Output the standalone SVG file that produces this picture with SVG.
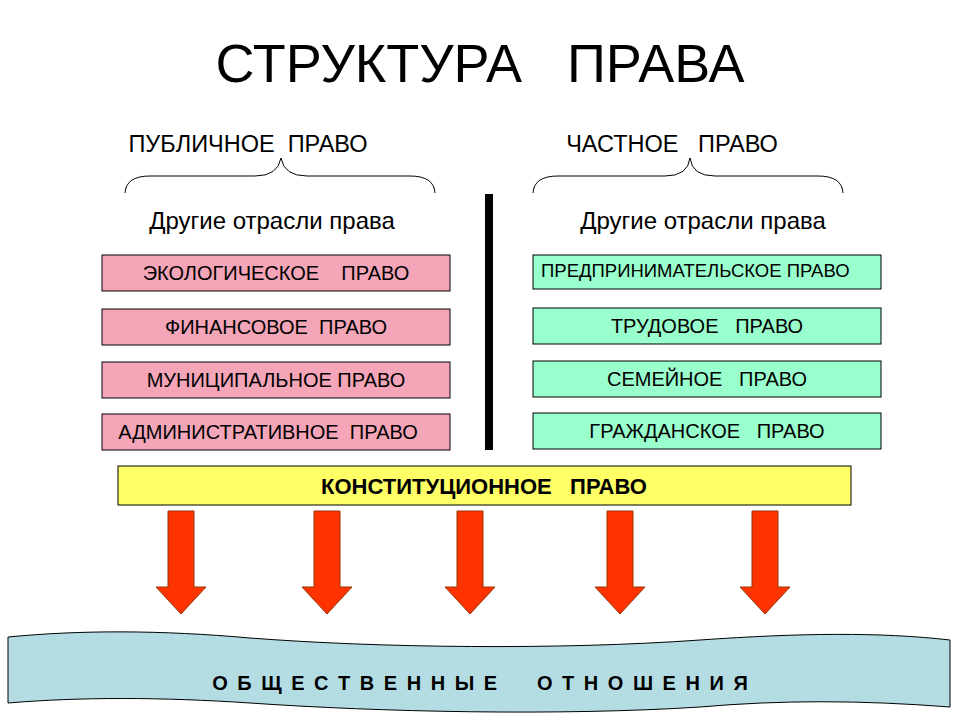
<svg xmlns="http://www.w3.org/2000/svg" width="960" height="720" viewBox="0 0 960 720">
<defs>
<style>
text{font-family:"Liberation Sans",Arial,sans-serif;fill:#000}
.pink{fill:#f4a6b8;stroke:#000;stroke-width:1}
.green{fill:#99ffcc;stroke:#000;stroke-width:1}
.lbl{font-size:20px;text-anchor:middle}
.brace{fill:none;stroke:#000;stroke-width:1}
.arr{fill:#ff3300;stroke:#993300;stroke-width:1}
</style>
<path id="arrow" d="M-13,0 H13 V76 H25 L0,103 L-25,76 H-13 Z"/>
</defs>
<rect width="960" height="720" fill="#fff"/>
<text x="480" y="82" font-size="54" text-anchor="middle" xml:space="preserve">СТРУКТУРА   ПРАВА</text>
<g id="public-header">
<text x="248" y="152" font-size="23.5" text-anchor="middle" xml:space="preserve">ПУБЛИЧНОЕ  ПРАВО</text>
<path class="brace" d="M125,193 Q126,176 150,176 H255 Q278,176 281,158 Q284,176 307,176 H410 Q434,176 435,193"/>
<text x="272" y="229" font-size="24" text-anchor="middle">Другие отрасли права</text>
</g>
<g id="private-header">
<text x="672" y="152" font-size="23.5" text-anchor="middle" xml:space="preserve">ЧАСТНОЕ   ПРАВО</text>
<path class="brace" d="M533,193 Q534,176 558,176 H665 Q688,176 690,158 Q692,176 715,176 H818 Q842,176 843,193"/>
<text x="703" y="229" font-size="24" text-anchor="middle">Другие отрасли права</text>
</g>
<rect x="485" y="194" width="8" height="256" fill="#000"/>
<g id="n-eco"><rect class="pink" x="102" y="255" width="348" height="36"/><text class="lbl" x="276" y="280" xml:space="preserve">ЭКОЛОГИЧЕСКОЕ    ПРАВО</text></g>
<g id="n-fin"><rect class="pink" x="102" y="309" width="348" height="36"/><text class="lbl" x="276" y="334" xml:space="preserve">ФИНАНСОВОЕ  ПРАВО</text></g>
<g id="n-mun"><rect class="pink" x="102" y="362" width="348" height="36"/><text class="lbl" x="276" y="387">МУНИЦИПАЛЬНОЕ ПРАВО</text></g>
<g id="n-adm"><rect class="pink" x="102" y="414" width="348" height="36"/><text class="lbl" x="268" y="439" xml:space="preserve">АДМИНИСТРАТИВНОЕ  ПРАВО</text></g>
<g id="n-pred"><rect class="green" x="533" y="255" width="348" height="34"/><text x="541" y="277" font-size="18.5" xml:space="preserve">ПРЕДПРИНИМАТЕЛЬСКОЕ ПРАВО</text></g>
<g id="n-trud"><rect class="green" x="533" y="308" width="348" height="36"/><text class="lbl" x="707" y="333" xml:space="preserve">ТРУДОВОЕ   ПРАВО</text></g>
<g id="n-sem"><rect class="green" x="533" y="361" width="348" height="36"/><text class="lbl" x="707" y="386" xml:space="preserve">СЕМЕЙНОЕ   ПРАВО</text></g>
<g id="n-grazh"><rect class="green" x="533" y="413" width="348" height="36"/><text class="lbl" x="707" y="438" xml:space="preserve">ГРАЖДАНСКОЕ   ПРАВО</text></g>
<g id="n-const"><rect x="118" y="466" width="733" height="39" fill="#ffff66" stroke="#000"/><text x="484" y="494" font-size="22" font-weight="bold" text-anchor="middle" xml:space="preserve">КОНСТИТУЦИОННОЕ   ПРАВО</text></g>
<g id="connectors">
<use href="#arrow" class="arr" x="181" y="511"/>
<use href="#arrow" class="arr" x="327" y="511"/>
<use href="#arrow" class="arr" x="470" y="511"/>
<use href="#arrow" class="arr" x="620" y="511"/>
<use href="#arrow" class="arr" x="765" y="511"/>
</g>
<g id="n-society">
<path d="M8,637 C80,630 160,630 250,638 C380,648 560,650 700,640 C800,633 880,632 950,640 L950,707 C860,700 780,700 700,707 C560,716 380,712 250,703 C160,697 80,697 8,703 Z" fill="#b3dde3" stroke="#000"/>
<text x="481" y="690" font-size="20" font-weight="bold" text-anchor="middle" letter-spacing="2" xml:space="preserve">О Б Щ Е С Т В Е Н Н Ы Е     О Т Н О Ш Е Н И Я</text>
</g>
</svg>
